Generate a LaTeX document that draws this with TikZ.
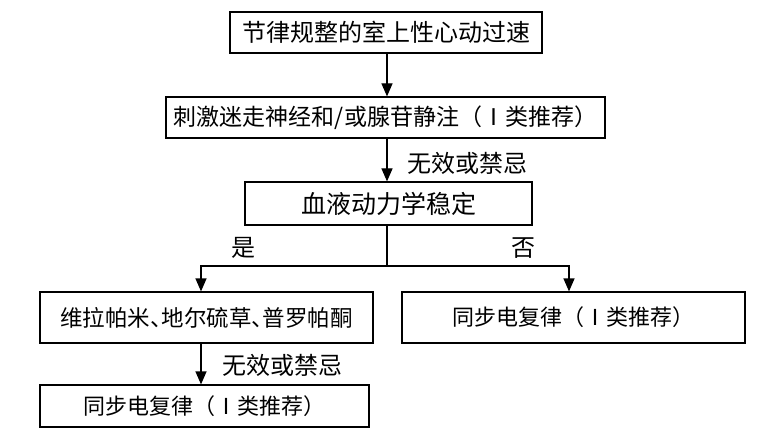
\documentclass[tikz,border=0pt]{standalone}
\usepackage{fontspec}
\newfontfamily\cjk{Noto Sans CJK SC}
\usetikzlibrary{arrows.meta}
\newcommand{\fsz}[1]{\cjk\fontsize{#1}{#1}\selectfont}
\begin{document}
\begin{tikzpicture}[x=1pt,y=-1pt,
  box/.style={draw,line width=1.2pt,inner sep=0pt,font=\fsz{23}},
  lbl/.style={inner sep=0pt,font=\fsz{24}},
  conn/.style={line width=1.2pt},
  arr/.style={line width=1.2pt,-{Triangle[length=13pt,width=11pt]}}]
\useasboundingbox (0,0) rectangle (765,438);
\node[box,minimum width=312pt,minimum height=41pt,font=\fsz{24}] (b1) at (386,32.5) {节律规整的室上性心动过速};
\node[box,minimum width=439pt,minimum height=41pt] (b2) at (385.5,117.5) {刺激迷走神经和/或腺苷静注（Ⅰ类推荐）};
\node[box,minimum width=287pt,minimum height=43pt,font=\fsz{25}] (b3) at (388.5,203.5) {血液动力学稳定};
\node[box,minimum width=333pt,minimum height=51pt,font=\fsz{22.5}] (b4) at (206.5,317.5) {维拉帕米\makebox[0.5em][l]{、}地尔硫草\makebox[0.5em][l]{、}普罗帕酮};
\node[box,minimum width=343pt,minimum height=51pt,font=\fsz{22}] (b5) at (573.5,317.5) {同步电复律（Ⅰ类推荐）};
\node[box,minimum width=329pt,minimum height=42pt,font=\fsz{22}] (b6) at (204.5,406) {同步电复律（Ⅰ类推荐）};
\coordinate (top) at (387,0);
\coordinate (j) at (387,266);
\coordinate (jl) at (201,266);
\coordinate (jr) at (569,266);
\draw[arr] (b1.south -| top) -- (b2.north -| top);
\draw[arr] (b2.south -| top) -- (b3.north -| top);
\draw[conn] (b3.south -| j) -- (j);
\draw[arr] (j) -| (b4.north -| jl);
\draw[arr] (j) -| (b5.north -| jr);
\draw[arr] (b4.south -| jl) -- (b6.north -| jl);
\node[lbl] (l1) at (467,163) {无效或禁忌};
\node[lbl] (l2) at (243,248) {是};
\node[lbl] (l3) at (523,248) {否};
\node[lbl] (l4) at (282,365) {无效或禁忌};
\end{tikzpicture}
\end{document}
